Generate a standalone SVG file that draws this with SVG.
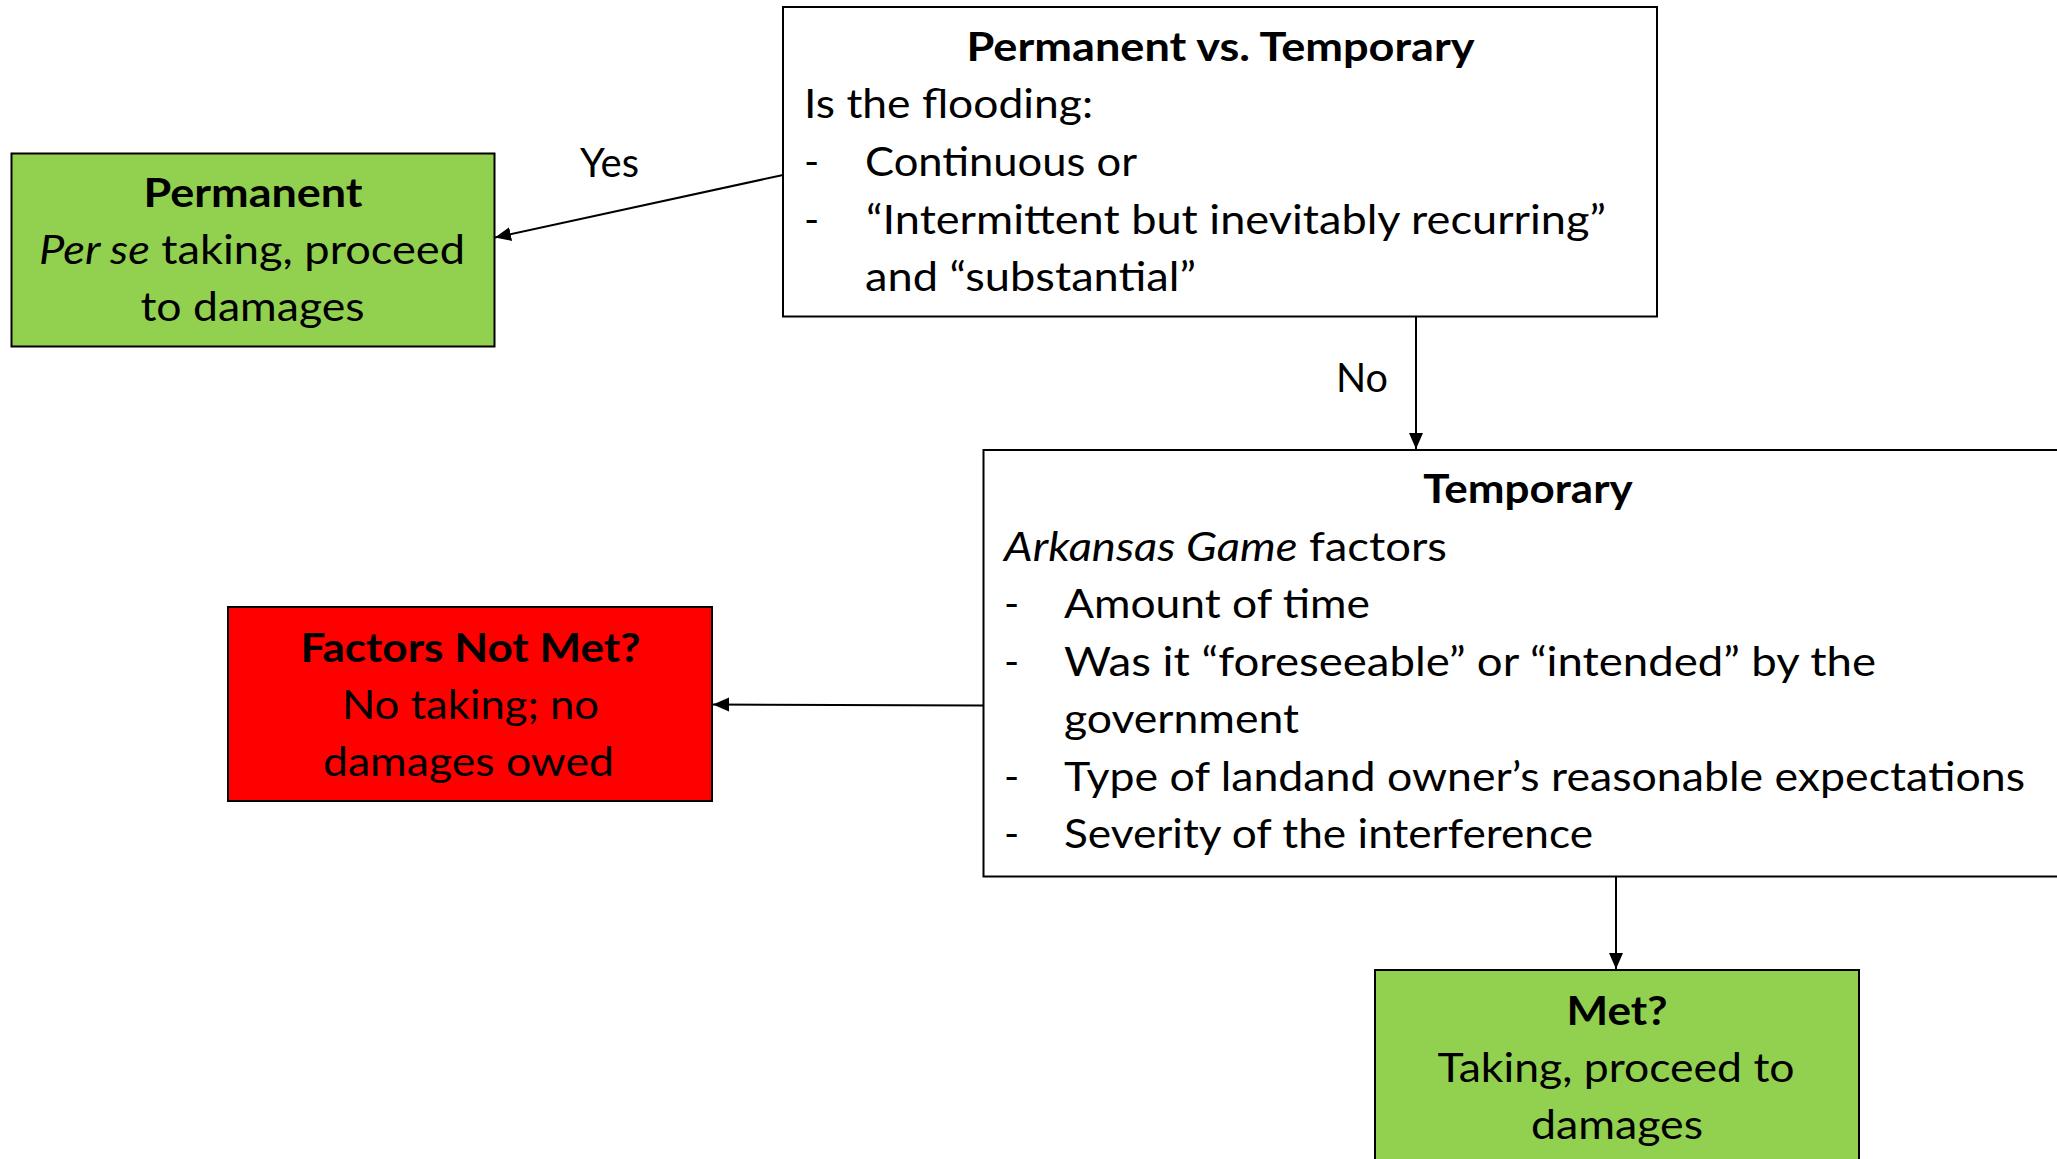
<svg xmlns="http://www.w3.org/2000/svg" width="2057" height="1159" viewBox="0 0 2057 1159">
  <style>
    .box { stroke: #000; stroke-width: 2; }
    .white { fill: #fff; }
    .green { fill: #92D050; }
    .red { fill: #FF0000; }
    text { font-family: Lato, "Open Sans", "Liberation Sans", sans-serif; font-size: 41px; fill: #000; }
    .b { font-weight: bold; }
    .i { font-style: italic; }
    .c { text-anchor: middle; }
    .conn { stroke: #000; stroke-width: 2; fill: none; marker-end: url(#arrow); }
  </style>
  <defs>
    <marker id="arrow" markerUnits="userSpaceOnUse" markerWidth="17" markerHeight="15" refX="16" refY="7" orient="auto">
      <path d="M0,0 L16,7 L0,14 Z" fill="#000"/>
    </marker>
  </defs>
  <rect width="2057" height="1159" fill="#fff"/>

  <g id="connectors">
    <line class="conn" x1="783" y1="175" x2="495" y2="237.5"/>
    <line class="conn" x1="1416" y1="317" x2="1416" y2="449"/>
    <line class="conn" x1="983" y1="705.5" x2="713" y2="704.5"/>
    <line class="conn" x1="1616" y1="877" x2="1616" y2="969"/>
    <text x="609.5" y="177" class="c" textLength="59" lengthAdjust="spacingAndGlyphs">Yes</text>
    <text x="1362" y="392" class="c" textLength="52" lengthAdjust="spacingAndGlyphs">No</text>
  </g>

  <g id="node-permanent-vs-temporary">
    <rect class="box white" x="783" y="7" width="874" height="309.5"/>
    <text x="1220.5" y="61" class="c b" textLength="508" lengthAdjust="spacingAndGlyphs">Permanent vs. Temporary</text>
    <text x="804" y="118" textLength="289" lengthAdjust="spacingAndGlyphs">Is the flooding:</text>
    <text x="804" y="176">-</text>
    <text x="865" y="176" textLength="272" lengthAdjust="spacingAndGlyphs">Continuous or</text>
    <text x="804" y="233.5">-</text>
    <text x="866" y="233.5" textLength="740" lengthAdjust="spacingAndGlyphs">“Intermittent but inevitably recurring”</text>
    <text x="865" y="291" textLength="331" lengthAdjust="spacingAndGlyphs">and “substantial”</text>
  </g>

  <g id="node-permanent">
    <rect class="box green" x="11.5" y="153.5" width="483" height="193"/>
    <text x="253" y="207" class="c b" textLength="219" lengthAdjust="spacingAndGlyphs">Permanent</text>
    <text x="252" y="264" class="c" textLength="426" lengthAdjust="spacingAndGlyphs"><tspan class="i">Per se</tspan> taking, proceed</text>
    <text x="252.5" y="320.5" class="c" textLength="224" lengthAdjust="spacingAndGlyphs">to damages</text>
  </g>

  <g id="node-temporary">
    <rect class="box white" x="983.5" y="450" width="1100" height="426.5"/>
    <text x="1528" y="503" class="c b" textLength="209.5" lengthAdjust="spacingAndGlyphs">Temporary</text>
    <text x="1004" y="560.5" textLength="443" lengthAdjust="spacingAndGlyphs"><tspan class="i">Arkansas Game</tspan> factors</text>
    <text x="1004" y="618">-</text>
    <text x="1064" y="618" textLength="306" lengthAdjust="spacingAndGlyphs">Amount of time</text>
    <text x="1004" y="675.5">-</text>
    <text x="1064" y="675.5" textLength="812" lengthAdjust="spacingAndGlyphs">Was it “foreseeable” or “intended” by the</text>
    <text x="1064" y="733" textLength="235" lengthAdjust="spacingAndGlyphs">government</text>
    <text x="1004" y="790.5">-</text>
    <text x="1064" y="790.5" textLength="961" lengthAdjust="spacingAndGlyphs">Type of landand owner’s reasonable expectations</text>
    <text x="1004" y="848">-</text>
    <text x="1064" y="848" textLength="529" lengthAdjust="spacingAndGlyphs">Severity of the interference</text>
  </g>

  <g id="node-factors-not-met">
    <rect class="box red" x="228" y="607" width="484" height="194"/>
    <text x="470.5" y="661.5" class="c b" textLength="340" lengthAdjust="spacingAndGlyphs">Factors Not Met?</text>
    <text x="470.5" y="719" class="c" textLength="257" lengthAdjust="spacingAndGlyphs">No taking; no</text>
    <text x="468.5" y="776" class="c" textLength="291" lengthAdjust="spacingAndGlyphs">damages owed</text>
  </g>

  <g id="node-met">
    <rect class="box green" x="1375" y="970" width="484" height="220"/>
    <text x="1617" y="1025" class="c b" textLength="101" lengthAdjust="spacingAndGlyphs">Met?</text>
    <text x="1616" y="1082" class="c" textLength="357" lengthAdjust="spacingAndGlyphs">Taking, proceed to</text>
    <text x="1617" y="1139" class="c" textLength="172" lengthAdjust="spacingAndGlyphs">damages</text>
  </g>
</svg>
